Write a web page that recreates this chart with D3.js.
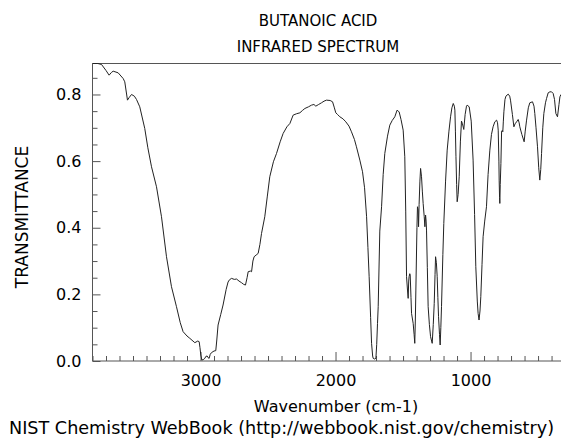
<!DOCTYPE html>
<html>
<head>
<meta charset="utf-8">
<script src="https://cdn.jsdelivr.net/npm/d3@7"></script>
<style>
  html, body { margin: 0; padding: 0; background: #fff; }
  svg { display: block; }
  text { font-family: "DejaVu Sans", sans-serif; fill: #000; }
</style>
</head>
<body>
<svg id="chart" width="561" height="438"></svg>
<script>
const titleLines = ["BUTANOIC ACID", "INFRARED SPECTRUM"];
const xLabel = "Wavenumber (cm-1)";
const yLabel = "TRANSMITTANCE";
const footer = "NIST Chemistry WebBook (http://webbook.nist.gov/chemistry)";

const xTickLabels = [3000, 2000, 1000];
const yTickLabels = [0.0, 0.2, 0.4, 0.6, 0.8];

const wavenumbers = [
 3800,3760,3733,3700,3677,3660,3647,3610,3573,3561,3541,3530,3511,3490,3474,3450,3413,3390,3363,3326,
 3289,3252,3215,3178,3150,3129,3100,3079,3042,3020,3010,3004,2998,2990,2980,2968,2960,2951,2944,2936,
 2928,2919,2900,2887,2880,2870,2850,2833,2810,2796,2785,2770,2750,2733,2715,2696,2680,2667,2655,2647,
 2630,2622,2612,2603,2588,2573,2560,2548,2524,2505,2487,2460,2437,2410,2388,2360,2338,2314,2290,2264,
 2245,2227,2200,2178,2160,2146,2125,2104,2085,2067,2040,2022,2010,1998,1985,1968,1945,1924,1900,1882,
 1860,1845,1820,1800,1785,1770,1760,1751,1740,1733,1725,1721,1710,1701,1695,1689,1684,1672,1659,1647,
 1635,1615,1598,1580,1561,1544,1536,1529,1515,1499,1487,1480,1474,1467,1462,1458,1455,1450,1447,1441,
 1437,1425,1418,1413,1409,1405,1397,1393,1388,1385,1381,1375,1370,1363,1357,1351,1343,1338,1333,1329,
 1326,1320,1314,1305,1296,1284,1276,1269,1263,1259,1253,1247,1242,1237,1230,1225,1220,1215,1205,1198,
 1185,1173,1160,1148,1138,1128,1120,1116,1112,1108,1103,1099,1092,1084,1075,1067,1060,1050,1040,1030,
 1025,1010,995,981,970,961,950,944,937,930,924,915,907,895,882,870,857,845,833,820,
 807,800,795,790,788,785,783,780,775,770,765,761,757,753,745,738,721,710,704,690,
 679,670,659,647,640,635,620,603,595,585,572,561,541,530,524,515,504,495,487,480,
 474,465,457,445,437,425,412,400,388,378,368,356,345,338,330
];
const transmittance = [
 0.893,0.893,0.890,0.872,0.858,0.866,0.870,0.865,0.848,0.838,0.783,0.790,0.800,0.795,0.785,0.763,0.698,0.640,0.583,0.523,
 0.433,0.313,0.223,0.163,0.115,0.088,0.075,0.068,0.055,0.060,0.058,0.040,0.018,0.003,0.004,0.008,0.014,0.015,0.010,0.008,
 0.020,0.025,0.030,0.031,0.060,0.108,0.140,0.168,0.215,0.237,0.244,0.248,0.245,0.246,0.240,0.235,0.230,0.228,0.250,0.268,
 0.270,0.268,0.300,0.313,0.318,0.323,0.350,0.383,0.433,0.495,0.553,0.598,0.623,0.658,0.683,0.703,0.713,0.738,0.742,0.745,
 0.752,0.758,0.763,0.768,0.770,0.765,0.770,0.775,0.780,0.783,0.782,0.778,0.762,0.745,0.740,0.733,0.727,0.718,0.705,0.688,
 0.665,0.643,0.603,0.568,0.520,0.433,0.340,0.253,0.130,0.053,0.015,0.008,0.006,0.008,0.050,0.113,0.163,0.390,0.463,0.560,
 0.623,0.675,0.708,0.722,0.733,0.753,0.750,0.748,0.725,0.693,0.613,0.450,0.253,0.213,0.188,0.240,0.253,0.262,0.258,0.190,
 0.143,0.113,0.080,0.053,0.120,0.213,0.400,0.463,0.453,0.403,0.470,0.540,0.578,0.553,0.510,0.473,0.433,0.403,0.438,0.420,
 0.393,0.280,0.163,0.110,0.073,0.053,0.110,0.173,0.260,0.313,0.295,0.253,0.190,0.133,0.080,0.048,0.100,0.163,0.320,0.413,
 0.540,0.633,0.690,0.733,0.760,0.773,0.765,0.753,0.690,0.613,0.530,0.478,0.500,0.553,0.660,0.720,0.712,0.695,0.740,0.765,
 0.768,0.763,0.720,0.603,0.440,0.283,0.180,0.143,0.123,0.150,0.193,0.290,0.373,0.420,0.463,0.560,0.633,0.680,0.703,0.718,
 0.723,0.715,0.693,0.600,0.543,0.490,0.473,0.530,0.593,0.690,0.692,0.688,0.720,0.748,0.785,0.795,0.801,0.795,0.783,0.740,
 0.703,0.712,0.718,0.725,0.715,0.703,0.680,0.658,0.690,0.723,0.760,0.775,0.778,0.765,0.743,0.700,0.643,0.580,0.543,0.575,
 0.623,0.700,0.743,0.775,0.788,0.805,0.808,0.808,0.803,0.785,0.743,0.733,0.770,0.793,0.800
];

const svg = d3.select("#chart");
const L = 92.5, R = 561, T = 63.5, B = 361;

const x = d3.scaleLinear().domain([3800, 330]).range([L, R]);
const y = d3.scaleLinear().domain([0, 0.893]).range([B, T]);

const axisColor = "#555";

const minorX = d3.range(400, 3801, 100).filter(v => v % 1000 !== 0);
const gxMinor = svg.append("g").attr("transform", `translate(0,${B})`)
  .call(d3.axisBottom(x).tickValues(minorX).tickSize(-5).tickFormat(""));
const gx = svg.append("g").attr("transform", `translate(0,${B})`)
  .call(d3.axisBottom(x).tickValues(xTickLabels).tickSize(-9).tickPadding(14).tickFormat(d3.format("d")));

const minorY = d3.range(0, 18).map(i => +(i * 0.05).toFixed(2)).filter(v => Math.round(v * 100) % 20 !== 0);
const gyMinor = svg.append("g").attr("transform", `translate(${L},0)`)
  .call(d3.axisLeft(y).tickValues(minorY).tickSize(-5).tickFormat(""));
const gy = svg.append("g").attr("transform", `translate(${L},0)`)
  .call(d3.axisLeft(y).tickValues(yTickLabels).tickSize(-8).tickPadding(11).tickFormat(d3.format(".1f")));

[gxMinor, gx, gyMinor, gy].forEach(g => {
  g.selectAll("path.domain").remove();
  g.selectAll("line").attr("stroke", axisColor);
  g.selectAll("text").attr("font-size", 16).attr("font-family", "DejaVu Sans").attr("fill", "#000");
});

svg.append("line").attr("x1", L).attr("x2", L).attr("y1", T).attr("y2", B).attr("stroke", axisColor);
svg.append("line").attr("x1", L).attr("x2", R).attr("y1", B).attr("y2", B).attr("stroke", axisColor);
svg.append("line").attr("x1", L).attr("x2", R).attr("y1", T).attr("y2", T).attr("stroke", axisColor);

const pts = wavenumbers.map((w, i) => [w, transmittance[i]]);
svg.append("path")
  .datum(pts)
  .attr("fill", "none")
  .attr("stroke", "#222")
  .attr("stroke-width", 1)
  .attr("d", d3.line().x(d => x(d[0])).y(d => y(d[1])));

const cx = 318;
svg.append("text").attr("x", cx).attr("y", 26).attr("text-anchor", "middle").attr("font-size", 15).text(titleLines[0]);
svg.append("text").attr("x", cx).attr("y", 52).attr("text-anchor", "middle").attr("font-size", 15).text(titleLines[1]);

svg.append("text").attr("x", 336).attr("y", 412).attr("text-anchor", "middle").attr("font-size", 16).text(xLabel);
svg.append("text").attr("transform", "translate(28,217) rotate(-90)").attr("text-anchor", "middle").attr("font-size", 17).text(yLabel);
svg.append("text").attr("x", 281.5).attr("y", 434).attr("text-anchor", "middle").attr("font-size", 17.6).text(footer);
</script>
</body>
</html>
